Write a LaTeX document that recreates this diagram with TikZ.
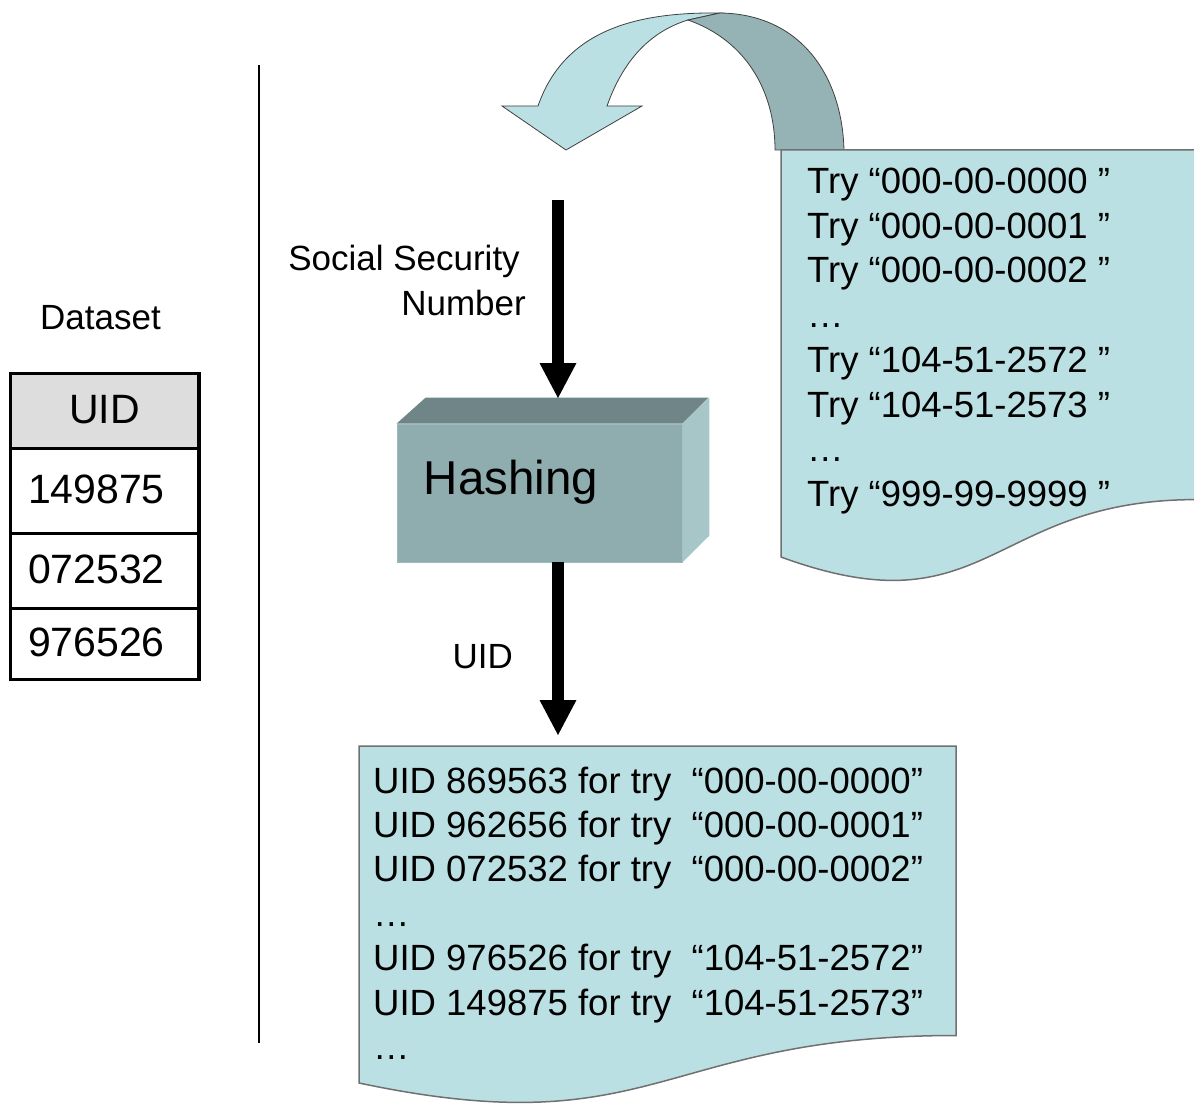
\documentclass[tikz,border=0pt]{standalone}
\usepackage{fontspec}
\setmainfont{Liberation Sans}
\usetikzlibrary{arrows.meta,positioning}
\definecolor{paper}{HTML}{BBE0E3}
\definecolor{ribbon}{HTML}{95B3B5}
\definecolor{hashfront}{HTML}{8FADAE}
\definecolor{hashtop}{HTML}{6F8587}
\definecolor{hashside}{HTML}{A7C6C8}
\definecolor{headgray}{HTML}{DDDDDD}
\definecolor{edge}{HTML}{707070}

\begin{document}
\begin{tikzpicture}[x=1pt,y=-1pt,
  every node/.style={font=\fontsize{35}{45}\selectfont,inner sep=0pt},
  listline/.style={anchor=base west,font=\fontsize{36.5}{45}\selectfont},
  cell/.style={draw,line width=1.5pt,minimum height=#1,text width=153pt,
               text height=29pt,text depth=5pt,
               inner xsep=17pt,align=left,font=\fontsize{41}{49}\selectfont},
  docbox/.style={fill=paper,draw=edge,line width=1.5pt},
  loopfill/.style={draw=black!75,line width=0.8pt},
  bigarrow/.style={line width=12pt,-{Triangle[width=37pt,length=35pt,line width'=0pt]}},
]
  \useasboundingbox (0,0) rectangle (1194,1105);

  % dataset table
  \node[cell=74pt,fill=headgray,align=center] (uidhead) at (104.5,411) {UID};
  \node[cell=83pt,below=0pt of uidhead] (row1) {149875};
  \node[cell=74pt,below=0pt of row1] (row2) {072532};
  \node[cell=69pt,below=0pt of row2] (row3) {976526};
  \draw[line width=3.5pt] (uidhead.north west) rectangle (row3.south east);
  \node[above=43pt of uidhead,xshift=-4pt] (dataset) {Dataset};

  \draw[line width=1.2pt] (259,65) -- (259,1043);

  % loop-back ribbon
  \draw[loopfill,fill=paper] (566,150) -- (502,106) -- (538,106)
    .. controls (565,28) and (640,12) .. (720,13) -- (688,20)
    .. controls (655,30) and (625,55) .. (607,106) -- (642,106) -- cycle;
  \draw[loopfill,fill=ribbon] (720,13) .. controls (800,14) and (842,75) .. (844,150)
    -- (775,150) .. controls (775,90) and (745,40) .. (688,20) -- cycle;

  % list of tries
  \draw[docbox] (781,150) -- (1196,150) -- (1196,499.6)
    .. controls (988.5,499.6) and (988.5,633) .. (781,557) -- cycle;
  \foreach \txt [count=\i] in {Try “000-00-0000\ ”,Try “000-00-0001\ ”,
      Try “000-00-0002\ ”,…,Try “104-51-2572\ ”,Try “104-51-2573\ ”,
      …,Try “999-99-9999\ ”}
    \node[listline] (try\i) at (807,{193.5+44.7*(\i-1)}) {\txt};

  % hashing block
  \node[fill=hashfront,draw=hashside!60!hashfront,line width=0.8pt,
        minimum width=285pt,minimum height=138pt] (hash) at (539.5,493) {};
  \fill[hashtop] (hash.north west) -- ++(29,-26) -- ++(283,0) -- (hash.north east) -- cycle;
  \fill[hashside] (hash.north east) -- ++(27,-26) -- ++(0,138) -- (hash.south east) -- cycle;
  \node[font=\fontsize{47.5}{55}\selectfont,anchor=base west] (hashlabel)
    at ([xshift=27pt,yshift=-1.5pt]hash.west) {Hashing};

  % flow arrows
  \coordinate (ssnstart) at (558,200);
  \coordinate (hashin) at (558,398);
  \coordinate (hashout) at (hash.south -| ssnstart);
  \coordinate (listin) at (558,735);
  \draw[bigarrow] (ssnstart) -- (hashin);
  \draw[bigarrow] (hashout) -- (listin);

  \node[align=right,anchor=north east] (ssnlabel) at (526,244.5)
    {Social Security\rule{6pt}{0pt}\\Number};
  \node[anchor=base west] (uidlabel) at (452.5,668.5) {UID};

  % resulting uids
  \draw[docbox] (359,746) -- (956,746) -- (956,1035.5)
    .. controls (657.5,1035.5) and (657.5,1146) .. (359,1083) -- cycle;
  \foreach \txt [count=\i] in {UID 869563 for try\ \ “000-00-0000”,
      UID 962656 for try\ \ “000-00-0001”,UID 072532 for try\ \ “000-00-0002”,
      …,UID 976526 for try\ \ “104-51-2572”,UID 149875 for try\ \ “104-51-2573”,…}
    \node[listline] (hit\i) at (373,{793+44.4*(\i-1)}) {\txt};
\end{tikzpicture}
\end{document}
